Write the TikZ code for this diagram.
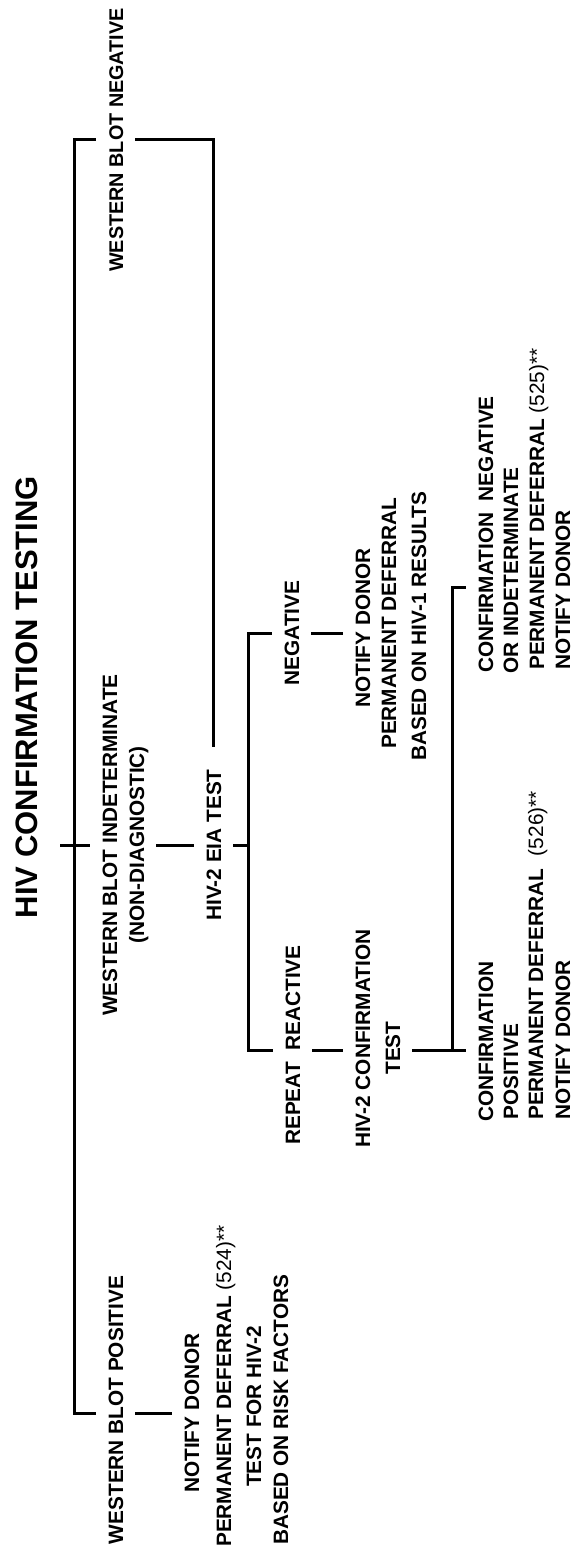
\documentclass[tikz,border=0pt]{standalone}
\usepackage{fontspec}
\setmainfont{Liberation Sans}
\usetikzlibrary{calc}
\begin{document}
\begin{tikzpicture}[x=1pt,y=-1pt,
  lbl/.style={rotate=90, font=\fontsize{20.8}{24}\selectfont\bfseries,
    inner xsep=0pt, inner ysep=12pt, text height=14.9pt, text depth=0pt},
  lbll/.style={lbl, anchor=base west},
  lblc/.style={lbl, anchor=base},
  link/.style={line width=3pt}]
\fill[white] (0,0) rectangle (572,1557);
\useasboundingbox (0,0) rectangle (572,1557);

% heading
\node[rotate=90, anchor=base, inner sep=0pt,
  font=\fontsize{31}{36}\selectfont\bfseries] (title) at (37,697) {HIV CONFIRMATION TESTING};

% first level: western blot outcomes
\node[lblc, font=\fontsize{19.8}{24}\selectfont\bfseries] (wbneg) at (123,140) {WESTERN BLOT NEGATIVE};
\node[lblc] (wbind1) at (117,845) {WESTERN BLOT INDETERMINATE};
\node[lblc] (wbind2) at (144,845) {(NON-DIAGNOSTIC)};
\node[lblc] (wbpos) at (123,1410) {WESTERN BLOT POSITIVE};

% positive western blot action
\node[lbll] (np1) at (199,1493) {NOTIFY DONOR};
\node[lbll] (np2) at (231,1547) {PERMANENT DEFERRAL {\mdseries (524)**}};
\node[lbll] (np3) at (261,1487) {TEST FOR HIV-2};
\node[lbll] (np4) at (288,1545) {BASED ON RISK FACTORS};

% HIV-2 EIA test and its outcomes
\node[lblc] (eia) at (221,845) {HIV-2 EIA TEST};
\node[lblc] (neg) at (299,633) {NEGATIVE};
\node[lbll] (nd1) at (370,708) {NOTIFY DONOR};
\node[lbll] (nd2) at (396,749) {PERMANENT DEFERRAL};
\node[lbll] (nd3) at (426,761) {BASED ON HIV-1 RESULTS};
\node[lbll] (rr) at (300,1145) {REPEAT\ \ REACTIVE};
\node[lbll] (hc1) at (370,1148) {HIV-2 CONFIRMATION};
\node[lblc] (hc2) at (400,1048) {TEST};

% HIV-2 confirmation outcomes
\node[lbll] (cn1) at (493,673) {CONFIRMATION\ \ NEGATIVE};
\node[lbll] (cn2) at (518,674) {OR INDETERMINATE};
\node[lbll] (cn3) at (544,670) {PERMANENT DEFERRAL {\mdseries (525)**}};
\node[lbll] (cn4) at (570,670) {NOTIFY DONOR};
\node[lbll] (cp1) at (493,1122) {CONFIRMATION};
\node[lbll] (cp2) at (518,1120) {POSITIVE};
\node[lbll] (cp3) at (543,1120) {PERMANENT DEFERRAL\hspace{13pt}{\mdseries (526)**}};
\node[lbll] (cp4) at (570,1120) {NOTIFY DONOR};

% bracket corners and junctions
\coordinate (tl) at (74,140);
\coordinate (bl) at (74,1413);
\coordinate (tr) at (213,140);
\coordinate (drop) at (213,747);
\coordinate (xl) at (60,845);
\coordinate (ej) at (248,845);
\coordinate (et) at (248,633);
\coordinate (eb) at (248,1050);
\coordinate (hj) at (452,1050);
\coordinate (ht) at (452,587);

% connectors
\draw[link] (wbneg.north) -- (tl) -- (bl) -- (wbpos.north |- bl);
\draw[link] (wbneg.south) -- (tr) -- (drop);
\draw[link] (xl) -- (wbind1.north);
\draw[link] (wbind2.south) -- (eia.north);
\draw[link] (eia.south) -- (ej);
\draw[link] (neg.north |- et) -- (et) -- (eb) -- (rr.north |- eb);
\draw[link] (neg.south) -- (nd1.north |- neg.south);
\draw[link] (rr.south |- eb) -- (hc1.north |- eb);
\draw[link] (cn1.north |- ht) -- (ht) -- (hj);
\draw[link] (hc2.south |- hj) -- (cp1.north |- hj);
\draw[link] (wbpos.south |- bl) -- (np1.north |- bl);
\end{tikzpicture}
\end{document}
